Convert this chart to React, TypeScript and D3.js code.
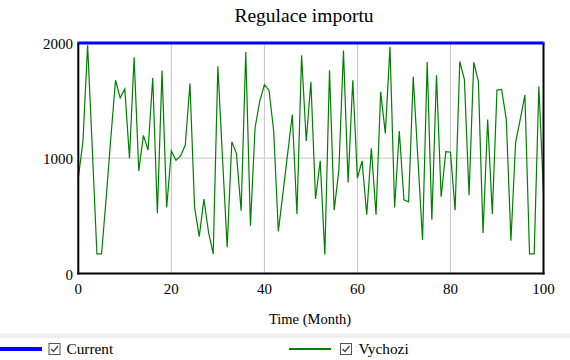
import React from "react";
import * as d3 from "d3";

const months: number[] = d3.range(0, 101);
const vychozi: number[] = [
  827, 1150, 1980, 1090, 170, 170, 660, 1180, 1677, 1524,
  1602, 1000, 1876, 890, 1199, 1072, 1697, 522, 1761, 573,
  1063, 983, 1020, 1115, 1648, 573, 320, 645, 357, 170,
  1798, 1000, 228, 1144, 1040, 545, 1922, 415, 1265, 1496,
  1637, 1588, 1236, 366, 700, 1040, 1380, 516, 1893, 1150,
  1663, 646, 977, 164, 1764, 550, 890, 1934, 790, 1677,
  827, 977, 510, 1086, 510, 1576, 1216, 1968, 573, 1236,
  640, 622, 1706, 1000, 291, 1836, 467, 1720, 666, 1058,
  1052, 550, 1841, 1683, 680, 1833, 1669, 352, 1337, 516,
  1591, 1597, 1337, 285, 1135, 1337, 1548, 170, 170, 1625,
  700,
];
const currentValue: number[] = months.map(() => 2000);
const xTicks: number[] = [0, 20, 40, 60, 80, 100];
const yTicks: number[] = [0, 1000, 2000];
const title = "Regulace importu";
const xTitle = "Time (Month)";
const legendNames: string[] = ["Current", "Vychozi"];

const W = 570;
const H = 360;
const x = d3.scaleLinear().domain([0, 100]).range([78.3, 543.5]);
const y = d3.scaleLinear().domain([0, 2000]).range([273.5, 43]);

const font = "'Liberation Serif', 'Times New Roman', serif";

function Check({ px, py }: { px: number; py: number }) {
  return (
    <g>
      <rect x={px + 0.5} y={py + 0.5} width={11} height={11} fill="#fff" stroke="#555" strokeWidth={1} />
      <polyline
        points={`${px + 2.5},${py + 6} ${px + 5},${py + 8.5} ${px + 9.5},${py + 3}`}
        fill="none"
        stroke="#444"
        strokeWidth={1.3}
      />
    </g>
  );
}

export default function App() {
  const line = d3
    .line<number>()
    .x((_, i) => x(months[i]))
    .y((d) => y(d));
  const greenPath = line(vychozi) || "";
  const bluePath = line(currentValue) || "";

  return (
    <div style={{ position: "fixed", left: 0, top: 0, width: W, height: H, background: "#fff" }}>
      <svg width={W} height={H} style={{ display: "block", fontFamily: font }}>
        <rect x={0} y={0} width={W} height={H} fill="#fff" />
        <text x={304} y={22} textAnchor="middle" fontSize={19.5} fill="#000">
          {title}
        </text>
        {xTicks
          .filter((t) => t > 0 && t < 100)
          .map((t) => (
            <line key={"gx" + t} x1={x(t)} x2={x(t)} y1={y(2000)} y2={y(0)} stroke="#c4c4c4" strokeWidth={1} />
          ))}
        {yTicks
          .filter((t) => t > 0 && t < 2000)
          .map((t) => (
            <line key={"gy" + t} x1={x(0)} x2={x(100)} y1={y(t)} y2={y(t)} stroke="#dadada" strokeWidth={1.5} />
          ))}
        <path d={greenPath} fill="none" stroke="#008000" strokeWidth={1.2} />
        <line x1={x(0)} x2={x(0)} y1={y(2000)} y2={y(0) + 1} stroke="#000" strokeWidth={2} />
        <line x1={x(0) - 1} x2={x(100) + 1} y1={y(0)} y2={y(0)} stroke="#000" strokeWidth={2} />
        <line x1={x(100)} x2={x(100)} y1={y(2000)} y2={y(0) + 1} stroke="#000" strokeWidth={2} />
        <path d={bluePath} fill="none" stroke="#0000ff" strokeWidth={3} />
        <line x1={x(0) - 1} x2={x(0)} y1={y(2000)} y2={y(2000)} stroke="#0000ff" strokeWidth={3} />
        <line x1={x(100)} x2={x(100) + 1} y1={y(2000)} y2={y(2000)} stroke="#0000ff" strokeWidth={3} />
        {yTicks.map((t) => (
          <text key={"yl" + t} x={73} y={y(t) + 6} textAnchor="end" fontSize={15} fill="#000">
            {t}
          </text>
        ))}
        {xTicks.map((t) => (
          <text key={"xl" + t} x={x(t)} y={293.5} textAnchor="middle" fontSize={15} fill="#000">
            {t}
          </text>
        ))}
        <text x={310} y={323.5} textAnchor="middle" fontSize={14.5} fill="#000">
          {xTitle}
        </text>
        <rect x={0} y={333.5} width={W} height={4.5} fill="#eeeeee" />
        <line x1={0} x2={42} y1={349} y2={349} stroke="#0000ff" strokeWidth={4} />
        <Check px={48.5} py={343} />
        <text x={66.5} y={354} fontSize={15.3} fill="#000">
          {legendNames[0]}
        </text>
        <line x1={289} x2={331} y1={349} y2={349} stroke="#008000" strokeWidth={2} />
        <Check px={340} py={343} />
        <text x={358.5} y={354} fontSize={15.3} fill="#000">
          {legendNames[1]}
        </text>
      </svg>
    </div>
  );
}
